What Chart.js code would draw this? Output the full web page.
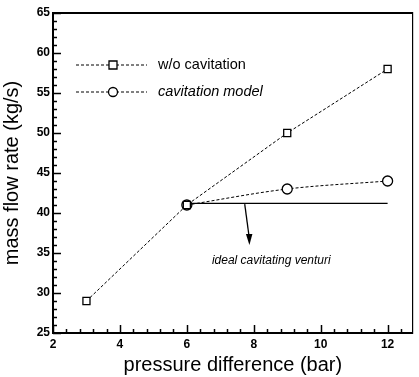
<!DOCTYPE html>
<html>
<head>
<meta charset="utf-8">
<script src="https://cdn.jsdelivr.net/npm/chart.js@4/dist/chart.umd.min.js"></script>
<style>
  html, body { margin: 0; padding: 0; background: #fff; }
  #wrap { width: 419px; height: 377px; }
</style>
</head>
<body>
<div id="wrap"><canvas id="flowChart"></canvas></div>
<script>
// data
const pressure = [3, 6, 9, 12];
const noCavitation = [29, 41, 50, 58];
const cavPressure = [6, 9, 12];
const cavitationModel = [41, 43, 44];
const idealPressure = [6, 12];
const idealVenturi = [41.2, 41.2];
const xTicks = [2, 4, 6, 8, 10, 12];
const yTicks = [25, 30, 35, 40, 45, 50, 55, 60, 65];

const font = '"Liberation Sans", Arial, sans-serif';

function pts(xs, ys) {
  return xs.map((x, i) => ({ x: x, y: ys[i] }));
}

// inward major + minor ticks, legend and the arrow note
const extras = {
  id: 'extras',
  afterDraw(chart) {
    const c = chart.ctx, xs = chart.scales.x, ys = chart.scales.y, a = chart.chartArea;
    c.save();
    c.strokeStyle = '#000';
    c.lineWidth = 1.5;
    for (let v = 2; v <= 12.75; v += 0.4) {
      const major = Math.abs(v / 2 - Math.round(v / 2)) < 0.01;
      const px = Math.round(xs.getPixelForValue(v)) + 0.5;
      c.beginPath();
      c.moveTo(px, a.bottom);
      c.lineTo(px, a.bottom - (major ? 8 : 4));
      c.stroke();
    }
    for (let v = 25; v <= 65; v += 1) {
      const major = v % 5 === 0;
      const py = Math.round(ys.getPixelForValue(v)) + 0.5;
      c.beginPath();
      c.moveTo(a.left, py);
      c.lineTo(a.left + (major ? 8 : 4), py);
      c.stroke();
    }

    // legend
    const rows = [
      { text: 'w/o cavitation', italic: false, marker: 'rect', y: 65 },
      { text: 'cavitation model', italic: true, marker: 'circle', y: 92 }
    ];
    rows.forEach(r => {
      c.lineWidth = 1;
      c.setLineDash([3, 2]);
      c.beginPath();
      c.moveTo(76, r.y);
      c.lineTo(147, r.y);
      c.stroke();
      c.setLineDash([]);
      c.lineWidth = 1.3;
      c.fillStyle = '#fff';
      c.beginPath();
      if (r.marker === 'rect') c.rect(109, r.y - 4, 8, 8);
      else c.arc(113, r.y, 4.5, 0, Math.PI * 2);
      c.fill();
      c.stroke();
      c.fillStyle = '#000';
      c.font = (r.italic ? 'italic ' : '') + '14.5px ' + font;
      c.textBaseline = 'middle';
      c.textAlign = 'left';
      c.fillText(r.text, 158, r.y);
    });

    // arrow + note
    const x0 = xs.getPixelForValue(7.73), y0 = ys.getPixelForValue(41.1);
    const x1 = xs.getPixelForValue(7.87), y1 = ys.getPixelForValue(36);
    c.lineWidth = 1.3;
    c.beginPath();
    c.moveTo(x0, y0);
    c.lineTo(x1, y1 - 6);
    c.stroke();
    c.fillStyle = '#000';
    c.beginPath();
    c.moveTo(x1, y1);
    c.lineTo(x1 - 3.5, y1 - 11);
    c.lineTo(x1 + 3, y1 - 11);
    c.closePath();
    c.fill();
    c.font = 'italic 12px ' + font;
    c.textAlign = 'left';
    c.textBaseline = 'middle';
    c.fillText('ideal cavitating venturi', xs.getPixelForValue(6.75), ys.getPixelForValue(34.1));
    c.restore();
  }
};

new Chart(document.getElementById('flowChart'), {
  type: 'line',
  data: {
    datasets: [
      {
        label: 'w/o cavitation',
        data: pts(pressure, noCavitation),
        borderColor: '#000',
        borderWidth: 1,
        borderDash: [3, 2],
        pointStyle: 'rect',
        pointRadius: 5,
        pointBackgroundColor: '#fff',
        pointBorderColor: '#000',
        pointBorderWidth: 1.3
      },
      {
        label: 'cavitation model',
        data: pts(cavPressure, cavitationModel),
        borderColor: '#000',
        borderWidth: 1,
        borderDash: [3, 2],
        tension: 0.4,
        cubicInterpolationMode: 'monotone',
        pointStyle: 'circle',
        pointRadius: 5,
        pointBackgroundColor: '#fff',
        pointBorderColor: '#000',
        pointBorderWidth: 1.3
      },
      {
        label: 'ideal cavitating venturi',
        data: pts(idealPressure, idealVenturi),
        borderColor: '#000',
        borderWidth: 1.3,
        pointRadius: 0
      }
    ]
  },
  plugins: [extras],
  options: {
    responsive: true,
    maintainAspectRatio: false,
    animation: false,
    layout: { padding: { top: 13, right: 6, left: 0, bottom: 0 } },
    plugins: {
      legend: { display: false },
      tooltip: { enabled: false }
    },
    scales: {
      x: {
        type: 'linear',
        min: 2,
        max: 12.75,
        afterBuildTicks: s => { s.ticks = xTicks.map(v => ({ value: v })); },
        afterFit: s => { s.height = 44; },
        border: { display: true, color: '#000', width: 2 },
        grid: { display: false, drawTicks: false },
        ticks: {
          padding: 4,
          color: '#000',
          font: { family: font, size: 12, weight: 'bold' }
        },
        title: {
          display: true,
          text: 'pressure difference (bar)',
          color: '#000',
          padding: { top: 2, bottom: 0 },
          font: { family: font, size: 20 }
        }
      },
      y: {
        type: 'linear',
        min: 25,
        max: 65,
        afterBuildTicks: s => { s.ticks = yTicks.map(v => ({ value: v })); },
        afterFit: s => { s.width = 53; },
        border: { display: true, color: '#000', width: 2 },
        grid: { display: false, drawTicks: false },
        ticks: {
          padding: 3,
          color: '#000',
          font: { family: font, size: 12, weight: 'bold' }
        },
        title: {
          display: true,
          text: 'mass flow rate (kg/s)',
          color: '#000',
          padding: { top: 0, bottom: 0 },
          font: { family: font, size: 20 }
        }
      },
      x2: {
        type: 'linear', position: 'top', min: 2, max: 12.75,
        border: { display: true, color: '#000', width: 2 },
        grid: { display: false, drawTicks: false },
        ticks: { display: false },
        afterFit: s => { s.height = 0; }
      },
      y2: {
        type: 'linear', position: 'right', min: 25, max: 65,
        border: { display: true, color: '#000', width: 1.2 },
        grid: { display: false, drawTicks: false },
        ticks: { display: false },
        afterFit: s => { s.width = 0; }
      }
    }
  }
});
</script>
</body>
</html>
